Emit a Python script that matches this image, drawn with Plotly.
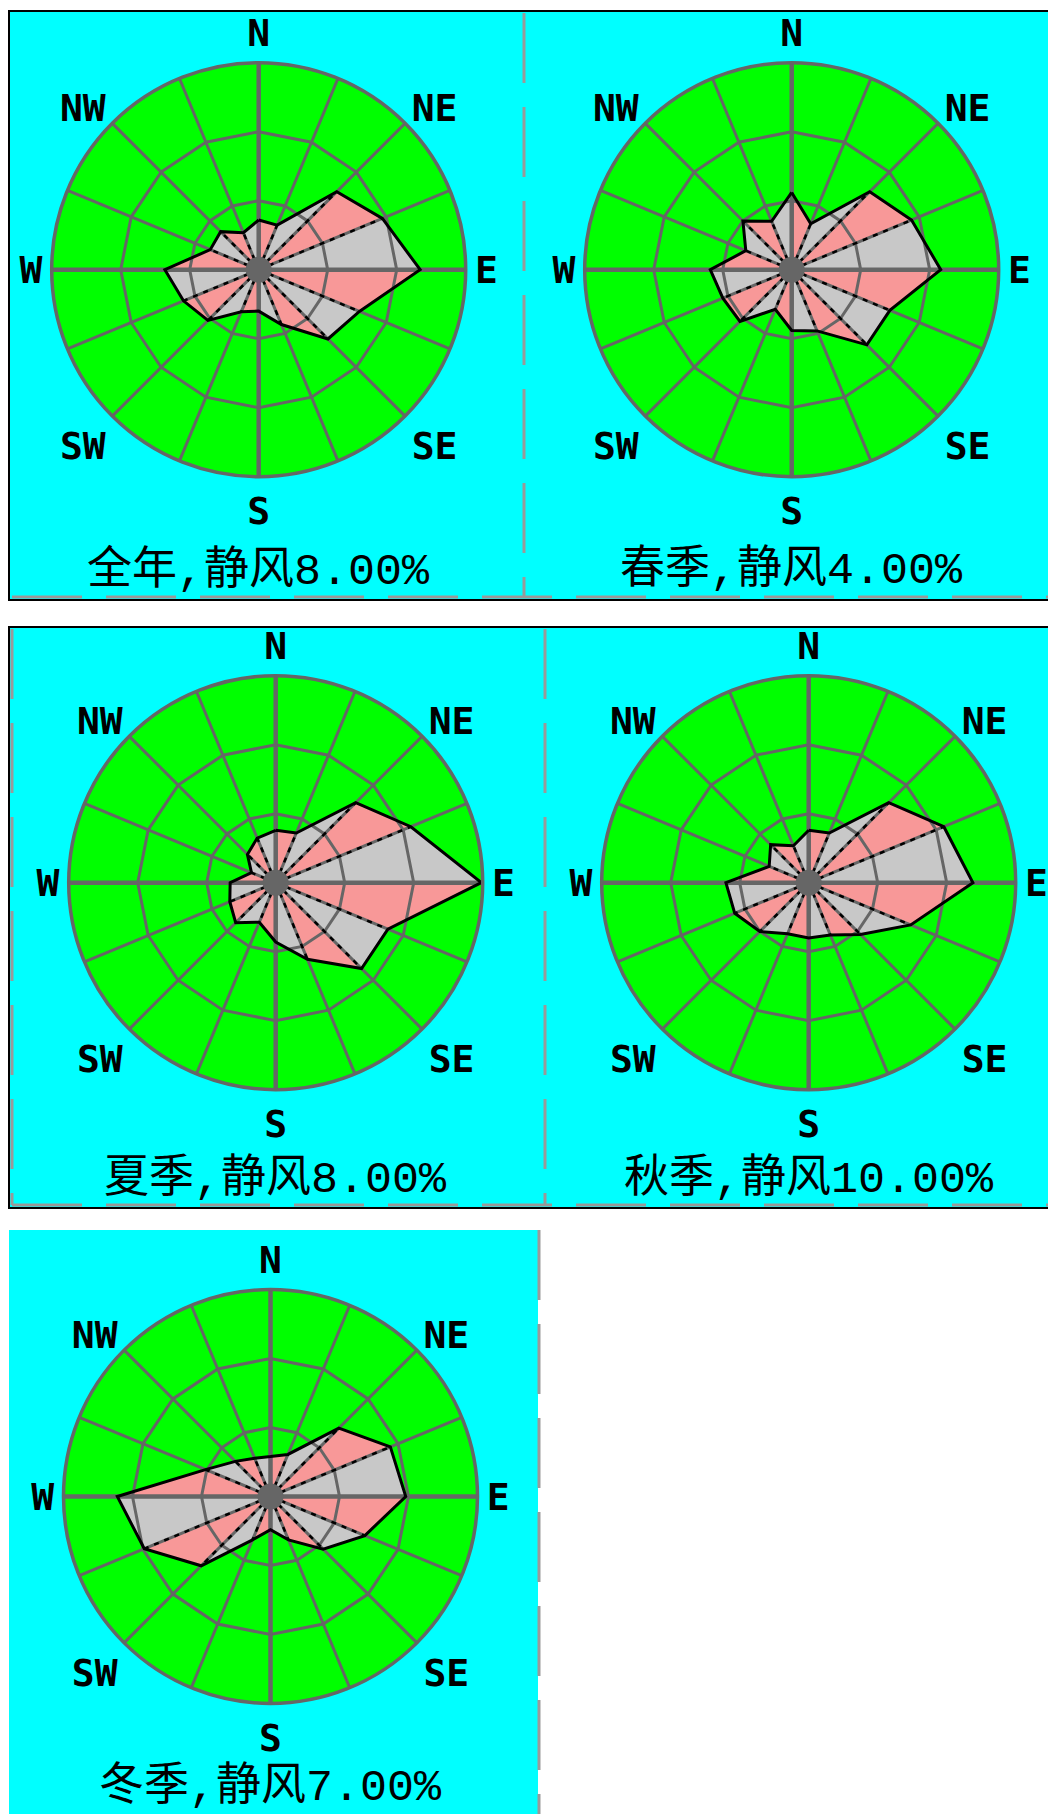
import plotly.graph_objects as go

W, H = 1048, 1814

# ---------------- data ----------------
directions = ["N", "NNE", "NE", "ENE", "E", "ESE", "SE", "SSE",
              "S", "SSW", "SW", "WSW", "W", "WNW", "NW", "NNW"]
dir_angles = [i * 22.5 for i in range(16)]

freq_annual = [3.6, 3.5, 8.0, 9.7, 11.7, 7.9, 7.1, 4.3, 3.0, 3.3, 5.2, 5.9, 6.8, 3.8, 3.9, 2.9]
freq_spring = [5.6, 3.6, 8.0, 9.4, 10.8, 7.7, 7.7, 4.8, 4.4, 3.1, 5.3, 5.4, 5.9, 3.6, 5.0, 3.8]
freq_summer = [3.8, 3.9, 8.2, 10.6, 14.9, 8.8, 8.8, 6.0, 4.3, 3.1, 4.1, 3.6, 3.3, 1.9, 2.9, 3.5]
freq_autumn = [3.8, 3.9, 8.2, 10.6, 11.9, 8.0, 5.3, 4.1, 4.0, 4.0, 5.0, 5.8, 6.0, 3.1, 3.9, 2.9]
freq_winter = [2.9, 3.3, 7.0, 9.4, 9.8, 7.4, 5.4, 3.4, 2.4, 3.4, 7.1, 9.9, 11.1, 5.1, 3.6, 3.0]

panel_titles = ["全年,静风8.00%", "春季,静风4.00%", "夏季,静风8.00%",
                "秋季,静风10.00%", "冬季,静风7.00%"]
compass_labels = ["N", "NE", "E", "SE", "S", "SW", "W", "NW"]
compass_angles = [0, 45, 90, 135, 180, 225, 270, 315]
ring_levels = [5, 10]
r_max = 15

series = [freq_annual, freq_spring, freq_summer, freq_autumn, freq_winter]

# ---------------- layout geometry (pixels) ----------------
centers = [(258.7, 269.7), (791.7, 269.7), (275.7, 882.7), (808.7, 882.7), (270.5, 1496.5)]
title_y = [571, 571, 1179, 1179, 1787]
RAD = 207

C_GREEN = "#00ff00"
C_CYAN = "#00ffff"
C_GRID = "#666666"
C_PINK = "#f89898"
C_GREY = "#c8c8c8"


def px(x):
    return x / W


def py(y):
    return 1 - y / H


fig = go.Figure()
layout_polars = {}
annotations = []

for k, vals in enumerate(series):
    sp = "polar" if k == 0 else f"polar{k + 1}"
    n = len(vals)
    # alternating triangles
    for parity, col in ((0, C_PINK), (1, C_GREY)):
        rr, tt = [], []
        for i in range(parity, n, 2):
            j = (i + 1) % n
            rr += [0, vals[i], vals[j], 0, None]
            tt += [dir_angles[i], dir_angles[i], dir_angles[i] + 22.5, dir_angles[i], None]
        fig.add_trace(go.Scatterpolar(r=rr, theta=tt, mode="lines", fill="toself",
                                      fillcolor=col, line=dict(width=0, color=col),
                                      subplot=sp, hoverinfo="skip", showlegend=False))
    # inner rings (16-gons)
    rr, tt = [], []
    for lv in ring_levels:
        rr += [lv] * (n + 1) + [None]
        tt += dir_angles + [360] + [None]
    fig.add_trace(go.Scatterpolar(r=rr, theta=tt, mode="lines",
                                  line=dict(color=C_GRID, width=3),
                                  subplot=sp, hoverinfo="skip", showlegend=False))
    # spokes
    rr, tt = [], []
    for a in dir_angles:
        rr += [0, r_max, None]
        tt += [a, a, None]
    fig.add_trace(go.Scatterpolar(r=rr, theta=tt, mode="lines",
                                  line=dict(color=C_GRID, width=3),
                                  subplot=sp, hoverinfo="skip", showlegend=False))
    # main axes
    fig.add_trace(go.Scatterpolar(r=[r_max, 0, r_max, None, r_max, 0, r_max],
                                  theta=[0, 0, 180, None, 90, 90, 270], mode="lines",
                                  line=dict(color=C_GRID, width=4.5),
                                  subplot=sp, hoverinfo="skip", showlegend=False))
    # black dotted radial edges of the rose
    rr, tt = [], []
    for i in range(n):
        if i % 4 != 0:
            rr += [0, vals[i], None]
            tt += [dir_angles[i], dir_angles[i], None]
    fig.add_trace(go.Scatterpolar(r=rr, theta=tt, mode="lines",
                                  line=dict(color="black", width=2.5, dash="5px,6px"),
                                  subplot=sp, hoverinfo="skip", showlegend=False))
    # black outline
    fig.add_trace(go.Scatterpolar(r=vals + [vals[0]], theta=dir_angles + [360], mode="lines",
                                  line=dict(color="black", width=3),
                                  subplot=sp, hoverinfo="skip", showlegend=False))
    # center blob
    fig.add_trace(go.Scatterpolar(r=[0], theta=[0], mode="markers",
                                  marker=dict(color=C_GRID, size=26),
                                  subplot=sp, hoverinfo="skip", showlegend=False))

    cx, cy = centers[k]
    layout_polars[sp] = dict(
        domain=dict(x=[px(cx - RAD), px(cx + RAD)], y=[py(cy + RAD), py(cy - RAD)]),
        bgcolor=C_GREEN,
        radialaxis=dict(visible=False, range=[0, r_max]),
        angularaxis=dict(rotation=90, direction="clockwise", tickmode="array",
                         tickvals=compass_angles, ticktext=compass_labels,
                         showgrid=False, showline=True, linecolor=C_GRID, linewidth=3.5,
                         ticks="",
                         tickfont=dict(family="DejaVu Sans Mono", size=38, color="black",
                                       weight="bold")),
    )
    annotations.append(dict(x=px(cx), y=py(title_y[k]), xref="paper", yref="paper",
                            text=panel_titles[k], showarrow=False,
                            xanchor="center", yanchor="middle",
                            font=dict(family="Liberation Mono, Noto Sans CJK SC", size=45,
                                      color="black")))

shapes = []
# panel frames
shapes.append(dict(type="rect", xref="paper", yref="paper", layer="below",
                   x0=px(9), x1=px(1060), y0=py(600), y1=py(11),
                   fillcolor=C_CYAN, line=dict(color="black", width=2)))
shapes.append(dict(type="rect", xref="paper", yref="paper", layer="below",
                   x0=px(9), x1=px(1060), y0=py(1208), y1=py(627),
                   fillcolor=C_CYAN, line=dict(color="black", width=2)))
shapes.append(dict(type="rect", xref="paper", yref="paper", layer="below",
                   x0=px(9), x1=px(538), y0=py(1830), y1=py(1230),
                   fillcolor=C_CYAN, line=dict(width=0)))
# dashed separators
for (x0, y0, x1, y1) in [(524, 13, 524, 597), (545, 629, 545, 1205), (539, 1230, 539, 1814),
                         (12, 597, 1048, 597), (12, 1205, 1048, 1205), (12, 629, 12, 1205)]:
    shapes.append(dict(type="line", xref="paper", yref="paper", layer="below",
                       x0=px(x0), x1=px(x1), y0=py(y0), y1=py(y1),
                       line=dict(color="#999999", width=3, dash="70px,24px")))

fig.update_layout(width=W, height=H, margin=dict(l=0, r=0, t=0, b=0),
                  paper_bgcolor="white", plot_bgcolor="white",
                  showlegend=False, shapes=shapes, annotations=annotations,
                  **layout_polars)

fig.write_html("out.html")
